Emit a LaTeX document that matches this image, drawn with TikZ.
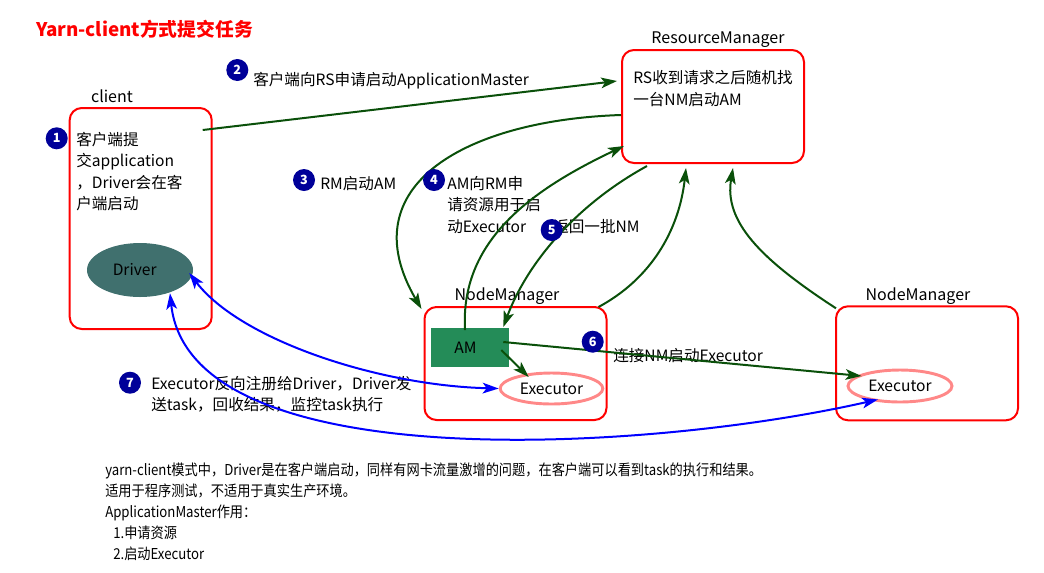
\documentclass[tikz,border=0pt]{standalone}
\usepackage{fontspec}
\setmainfont{Noto Sans CJK SC}
\newfontfamily\notefont[FakeStretch=0.88]{Noto Sans CJK SC}
\usetikzlibrary{arrows.meta,calc,shapes.geometric}
\definecolor{boxred}{RGB}{255,0,0}
\definecolor{flowgreen}{RGB}{10,80,10}
\definecolor{callblue}{RGB}{0,0,255}
\definecolor{badgeblue}{RGB}{0,0,153}
\definecolor{amgreen}{RGB}{36,140,88}
\definecolor{driverteal}{RGB}{64,112,110}
\definecolor{execpink}{RGB}{255,136,136}

\begin{document}
\begin{tikzpicture}[x=0.75pt,y=-0.75pt,
  every node/.style={inner sep=0pt},
  % multi-line texts are placed by the baseline of their last line
  body/.style={font=\fontsize{11.7pt}{16.1pt}\selectfont, align=left, anchor=base west},
  hostlabel/.style={font=\fontsize{12pt}{14pt}\selectfont, anchor=base},
  hostbox/.style={draw=boxred, line width=1.5pt, rounded corners=9pt},
  numbadge/.style={circle, fill=badgeblue, minimum size=16.5pt, text=white,
    font=\bfseries\fontsize{9.5pt}{10pt}\selectfont},
  flow/.style={draw=flowgreen, line width=1.5pt,
    -{Stealth[length=12pt,width=8pt,inset=3pt]}},
  call/.style={draw=callblue, line width=1.5pt,
    {Stealth[length=12pt,width=8pt,inset=3pt]}-{Stealth[length=12pt,width=8pt,inset=3pt]}},
]
\useasboundingbox (0,0) rectangle (1044,572);

% title
\node[font=\bfseries\fontsize{14.1pt}{16pt}\selectfont, text=boxred, anchor=base west]
  (title) at (36,36) {Yarn-client方式提交任务};

% hosts
\node[hostbox, minimum width=106.5pt, minimum height=165.75pt] (client) at (140.7,218.5) {};
\node[hostlabel] (clientlbl) at (112,102) {client};
\node[hostbox, minimum width=136.5pt, minimum height=84.75pt] (RM) at (713,106.5) {};
\node[hostlabel] (RMlbl) at (718,43) {ResourceManager};
\node[hostbox, minimum width=136.5pt, minimum height=84.75pt] (NMa) at (515.5,363.5) {};
\node[hostlabel] (NMalbl) at (507,300) {NodeManager};
\node[hostbox, minimum width=136.5pt, minimum height=85.5pt] (NMb) at (927,363.3) {};
\node[hostlabel] (NMblbl) at (918,300) {NodeManager};

% processes
\node[ellipse, fill=driverteal, minimum width=79.5pt, minimum height=40.5pt,
  font=\fontsize{11.7pt}{13pt}\selectfont] (driver) at (140,270) {Driver\hspace*{8pt}};
\node[rectangle, fill=amgreen, minimum width=58.5pt, minimum height=28.75pt,
  font=\fontsize{11.7pt}{13pt}\selectfont] (AM) at (470,347.5) {AM\hspace*{7pt}};
\node[ellipse, draw=execpink, line width=2.2pt, minimum width=77pt, minimum height=23.25pt,
  font=\fontsize{11.7pt}{13pt}\selectfont] (execA) at (551.5,388.5) {Executor};
\node[ellipse, draw=execpink, line width=2.2pt, minimum width=78pt, minimum height=24pt,
  font=\fontsize{11.7pt}{13pt}\selectfont] (execB) at (900,386) {Executor};

% texts
\node[body] (t1) at (76,209.5) {客户端提\\交application\\，Driver会在客\\户端启动};
\node[body] (tRM) at (633,105) {RS收到请求之后随机找\\一台NM启动AM};
\node[body] (t2) at (253,85) {客户端向RS申请启动ApplicationMaster};
\node[body] (t3) at (320,189) {RM启动AM};
\node[body] (t4) at (447,232) {AM向RM申\\请资源用于启\\动Executor};
\node[body] (t5) at (553,232.5) {返回一批NM};
\node[body] (t6) at (613,361.5) {连接NM启动Executor};
\node[body] (t7) at (151,410.5) {Executor反向注册给Driver，Driver发\\送task，回收结果，监控task执行};

% notes below
\node[font=\notefont\fontsize{11.25pt}{15.75pt}\selectfont, align=left, anchor=base west]
  (notes) at (105,559) {yarn-client模式中，Driver是在客户端启动，同样有网卡流量激增的问题，在客户端可以看到task的执行和结果。\\
  适用于程序测试，不适用于真实生产环境。\\
  ApplicationMaster作用：\\
  \hspace*{6pt}1.申请资源\\
  \hspace*{6pt}2.启动Executor};

% control flow
\draw[flow] ($(client.north east)+(-10,23)$) -- ($(RM.north west)+(-4,32)$);
\draw[flow] ($(RM.west)+(0,8.5)$) .. controls +(-152,5) and +(-73,-125) .. ($(NMa.north west)+(-2,3)$);
\draw[flow] ($(AM.north)+(-5,2)$) .. controls +(-5,-88) and +(-95,45) .. ($(RM.south west)+(3,-18)$);
\draw[flow] ($(RM.south west)+(26,2)$) .. controls +(-73,40) and +(23,-62) .. ($(AM.north east)+(-6,-1)$);
\draw[flow] ($(NMa.north east)+(-9,1)$) .. controls +(52,-28) and +(-7,63) .. ($(RM.south west)+(65,4)$);
\draw[flow] ($(NMb.north west)+(1,3)$) .. controls +(-77,-50) and +(-9,53) .. ($(RM.south west)+(112,4)$);
\draw[flow] ($(AM.east)+(-6,-5.5)$) -- ($(execB.west)+(15,-10)$);
\draw[flow] ($(AM.east)+(-8,2.5)$) -- ($(execA.west)+(30,-11.5)$);

% driver <-> executors
\draw[call] ($(driver.east)+(-4,3)$) .. controls +(51,67) and +(-120,-3) .. (execA.west);
\draw[call] ($(driver.south)+(30,-4)$) .. controls +(20,187) and +(-228,52) .. ($(execB.south)+(-22,-4)$);

% step badges
\node[numbadge] (b1) at (56.7,138.3) {1};
\node[numbadge] (b2) at (237.3,70) {2};
\node[numbadge] (b3) at (304,180) {3};
\node[numbadge] (b4) at (434,180) {4};
\node[numbadge] (b5) at (551.7,230) {5};
\node[numbadge] (b6) at (592.7,341.7) {6};
\node[numbadge] (b7) at (130,382.7) {7};
\end{tikzpicture}
\end{document}
